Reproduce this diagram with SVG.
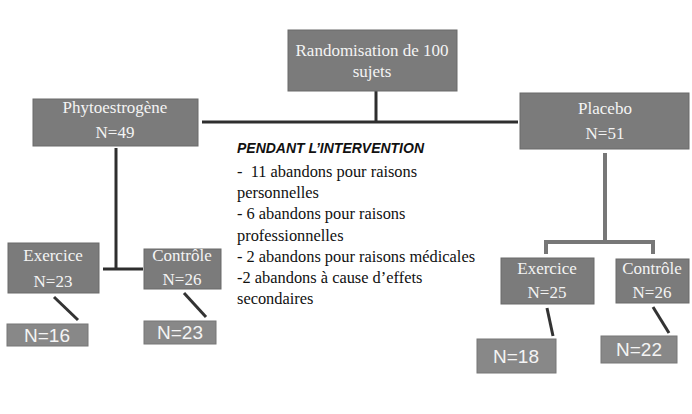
<svg xmlns="http://www.w3.org/2000/svg" width="692" height="414" viewBox="0 0 692 414">
<style>
.box{fill:#7b7b7b;stroke:#6a6a6a;stroke-width:1}
.sbox{fill:#888888;stroke:#777;stroke-width:1}
.bt{font-family:"Liberation Serif","Times New Roman",serif;font-size:17px;fill:#f4f4f4;text-anchor:middle}
.st{font-family:"Liberation Sans",Arial,sans-serif;font-size:19px;fill:#f4f4f4;text-anchor:middle}
.body{font-family:"Liberation Serif","Times New Roman",serif;font-size:16.4px;fill:#111}
.head{font-family:"Liberation Sans",Arial,sans-serif;font-size:14px;font-weight:bold;font-style:italic;fill:#111}
.ln{stroke:#2e2e2e;stroke-width:3;fill:none}
.gl{stroke:#777;stroke-width:4;fill:none}
.dg{stroke:#333;stroke-width:3;fill:none}
</style>
<rect width="692" height="414" fill="#ffffff"/>
<g id="connectors">
<line class="ln" x1="376" y1="91" x2="376" y2="122"/>
<line class="ln" x1="202" y1="122" x2="518" y2="122"/>
<line class="ln" x1="116" y1="148" x2="116" y2="269"/>
<line class="ln" x1="103" y1="269" x2="143" y2="269"/>
<line class="dg" x1="54" y1="297" x2="78" y2="320"/>
<line class="dg" x1="184" y1="293" x2="206" y2="317"/>
<line class="gl" x1="605" y1="153" x2="605" y2="242"/>
<polyline class="gl" points="546,254 546,242 653,242 653,254"/>
<line class="dg" x1="547" y1="308" x2="553" y2="336"/>
<line class="dg" x1="653" y1="307" x2="669" y2="333"/>
</g>
<g id="n-random">
<rect class="box" x="288" y="30" width="169" height="61"/>
<text class="bt" x="372" y="56">Randomisation de 100</text>
<text class="bt" x="372" y="77">sujets</text>
</g>
<g id="n-phyto">
<rect class="box" x="33" y="99" width="165" height="47"/>
<text class="bt" x="115" y="113">Phytoestrogène</text>
<text class="bt" x="115" y="138">N=49</text>
</g>
<g id="n-placebo">
<rect class="box" x="520" y="93" width="169" height="56"/>
<text class="bt" x="605" y="114">Placebo</text>
<text class="bt" x="605" y="139">N=51</text>
</g>
<g id="n-ex-left">
<rect class="box" x="8" y="243" width="91" height="50"/>
<text class="bt" x="53" y="261">Exercice</text>
<text class="bt" x="53" y="287">N=23</text>
</g>
<g id="n-ctl-left">
<rect class="box" x="144" y="249" width="77" height="40"/>
<text class="bt" x="182" y="261">Contrôle</text>
<text class="bt" x="182" y="285">N=26</text>
</g>
<g id="n-16">
<rect class="sbox" x="7" y="324" width="81" height="22"/>
<text class="st" x="47" y="342">N=16</text>
</g>
<g id="n-23b">
<rect class="sbox" x="144" y="321" width="72" height="23"/>
<text class="st" x="180" y="339">N=23</text>
</g>
<g id="n-ex-right">
<rect class="box" x="501" y="258" width="93" height="46"/>
<text class="bt" x="547" y="274">Exercice</text>
<text class="bt" x="547" y="298">N=25</text>
</g>
<g id="n-ctl-right">
<rect class="box" x="616" y="259" width="73" height="44"/>
<text class="bt" x="652" y="274">Contrôle</text>
<text class="bt" x="652" y="298">N=26</text>
</g>
<g id="n-18">
<rect class="sbox" x="477" y="339" width="79" height="34"/>
<text class="st" x="516" y="363">N=18</text>
</g>
<g id="n-22">
<rect class="sbox" x="601" y="336" width="76" height="27"/>
<text class="st" x="639" y="356">N=22</text>
</g>
<g id="notes">
<text class="head" x="237" y="153" textLength="187" lengthAdjust="spacingAndGlyphs">PENDANT L’INTERVENTION</text>
<text class="body" x="237" y="177" xml:space="preserve">-  11 abandons pour raisons</text>
<text class="body" x="237" y="198">personnelles</text>
<text class="body" x="237" y="219">- 6 abandons pour raisons</text>
<text class="body" x="237" y="240.5">professionnelles</text>
<text class="body" x="237" y="262">- 2 abandons pour raisons médicales</text>
<text class="body" x="237" y="283">-2 abandons à cause d’effets</text>
<text class="body" x="237" y="304">secondaires</text>
</g>
</svg>
